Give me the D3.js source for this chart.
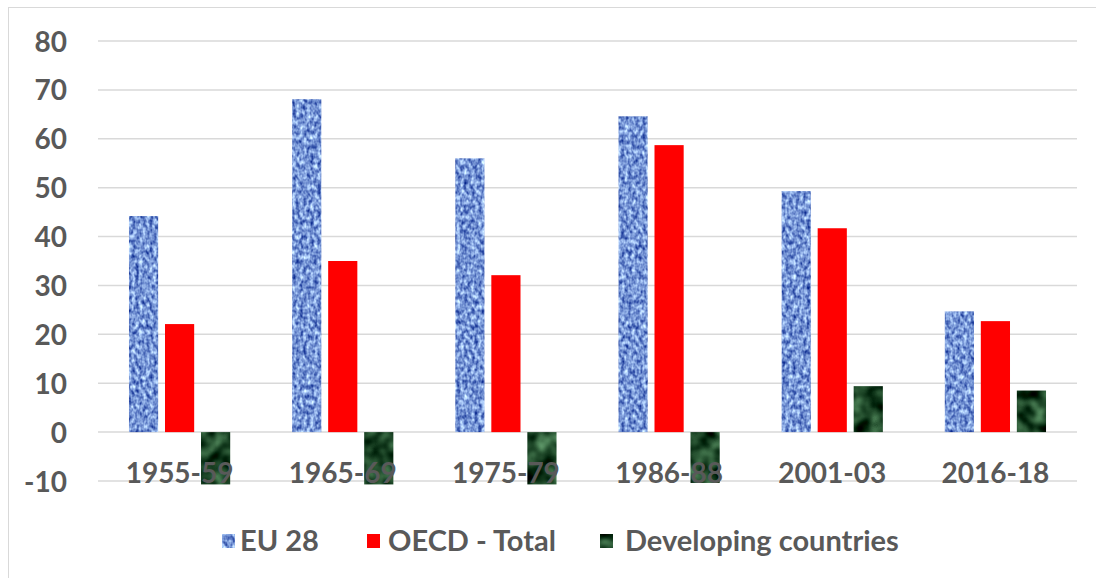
<!DOCTYPE html>
<html>
<head>
<meta charset="utf-8">
<script src="https://cdn.jsdelivr.net/npm/d3@7"></script>
<style>
  html, body { margin: 0; padding: 0; background: #fff; }
  svg { display: block; }
  text { font-family: Lato, "Open Sans", sans-serif; font-weight: bold; fill: #595959; }
</style>
</head>
<body>
<div id="chart"></div>
<script>
// data
const categories = ["1955-59", "1965-69", "1975-79", "1986-88", "2001-03", "2016-18"];
const seriesNames = ["EU 28", "OECD - Total", "Developing countries"];
const eu28 = [44.2, 68.1, 56.0, 64.6, 49.3, 24.7];
const oecd = [22.1, 35.0, 32.1, 58.7, 41.7, 22.7];
const developing = [-10.7, -10.7, -10.7, -10.4, 9.4, 8.5];
const yTicks = [-10, 0, 10, 20, 30, 40, 50, 60, 70, 80];

const W = 1096, H = 578;
const margin = {top: 41, right: 19, bottom: 97, left: 98};

const svg = d3.select("#chart").append("svg")
  .attr("width", W)
  .attr("height", H);

// textures (EU: blue weave, developing: dark green marble)
const defs = svg.append("defs");
function texture(id, freq, oct, seed, m) {
  const f = defs.append("filter").attr("id", id)
    .attr("color-interpolation-filters", "sRGB")
    .attr("x", "0").attr("y", "0").attr("width", "1").attr("height", "1");
  f.append("feTurbulence").attr("type", "fractalNoise")
    .attr("baseFrequency", freq).attr("numOctaves", oct).attr("seed", seed)
    .attr("result", "noise");
  f.append("feColorMatrix").attr("in", "noise").attr("type", "matrix")
    .attr("values", m).attr("result", "col");
  f.append("feComposite").attr("in", "col").attr("in2", "SourceGraphic").attr("operator", "in");
}
texture("tex-eu", "0.28 0.2", 2, 3,
  "1.15 0 0 0 -0.11  1.15 0 0 0 0.01  0.75 0 0 0 0.46  0 0 0 0 1");
texture("tex-dev", "0.06", 2, 7,
  "0.8 0 0 0 -0.29  1.0 0 0 0 -0.23  0.8 0 0 0 -0.25  0 0 0 0 1");

const fills = ["#7d9ad4", "#ff0000", "#1f4a2a"];
const filters = ["url(#tex-eu)", null, "url(#tex-dev)"];

// outer frame
svg.append("rect")
  .attr("x", 8.5).attr("y", 7.5)
  .attr("width", W + 10).attr("height", H + 10)
  .attr("fill", "none").attr("stroke", "#d9d9d9").attr("stroke-width", 1);

const x0 = d3.scaleBand()
  .domain(categories)
  .range([margin.left, W - margin.right]);

const x1 = d3.scaleBand()
  .domain(seriesNames)
  .range([0, x0.bandwidth()])
  .paddingInner(0.19)
  .paddingOuter(0.86);

const y = d3.scaleLinear()
  .domain([-10, 80])
  .range([H - margin.bottom, margin.top]);

// gridlines
svg.append("g")
  .selectAll("line")
  .data(yTicks)
  .join("line")
  .attr("x1", margin.left).attr("x2", W - margin.right)
  .attr("y1", d => y(d)).attr("y2", d => y(d))
  .attr("stroke", "#d9d9d9").attr("stroke-width", 1.5);

// y labels
const yAxis = svg.append("g")
  .attr("transform", `translate(${margin.left - 31},0)`)
  .call(d3.axisLeft(y).tickValues(yTicks).tickFormat(d => String(d)).tickSize(0).tickPadding(0));
yAxis.select(".domain").remove();
yAxis.selectAll("text")
  .attr("font-size", 28)
  .attr("font-family", null)
  .attr("fill", null)
  .attr("dy", "0.36em");

// bars
const series = [eu28, oecd, developing];
const rows = [];
series.forEach((vals, si) => {
  vals.forEach((v, ci) => rows.push({cat: categories[ci], s: seriesNames[si], si: si, v: v}));
});

svg.append("g")
  .selectAll("rect")
  .data(rows)
  .join("rect")
  .attr("x", d => x0(d.cat) + x1(d.s))
  .attr("y", d => y(Math.max(0, d.v)))
  .attr("width", x1.bandwidth())
  .attr("height", d => Math.abs(y(d.v) - y(0)))
  .attr("fill", d => fills[d.si])
  .attr("filter", d => filters[d.si]);

// category labels (drawn over bars)
const xAxis = svg.append("g")
  .attr("transform", `translate(0,${y(0)})`)
  .call(d3.axisBottom(x0).tickSize(0).tickPadding(0));
xAxis.select(".domain").remove();
xAxis.selectAll("text")
  .attr("font-size", 28)
  .attr("font-family", null)
  .attr("fill", null)
  .attr("dy", "1.8em");

// legend
const legendX = [222, 367, 600];
const legendTextX = [240, 388, 625];
const leg = svg.append("g")
  .selectAll("g")
  .data(seriesNames)
  .join("g")
  .attr("transform", (d, i) => `translate(${legendX[i]},541)`);
leg.append("rect")
  .attr("x", 0).attr("y", -7)
  .attr("width", 13).attr("height", 14)
  .attr("fill", (d, i) => fills[i])
  .attr("filter", (d, i) => filters[i]);
leg.append("text")
  .attr("x", (d, i) => legendTextX[i] - legendX[i])
  .attr("dy", "0.36em")
  .attr("font-size", 29)
  .text(d => d);
</script>
</body>
</html>
